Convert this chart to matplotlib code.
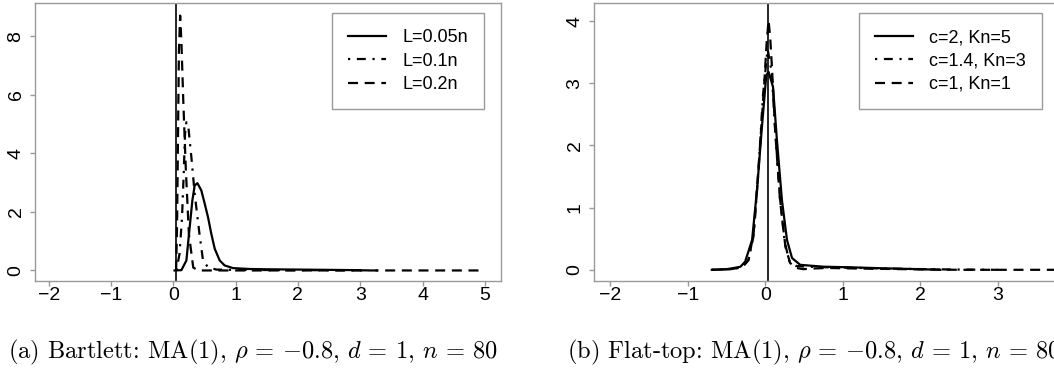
import matplotlib
matplotlib.use("Agg")
import matplotlib.pyplot as plt

plt.rcParams['font.family'] = ['Liberation Sans', 'DejaVu Sans']
plt.rcParams['mathtext.fontset'] = 'cm'
plt.rcParams['axes.unicode_minus'] = True

# ---- Panel (a): Bartlett ----
a_labels = ["L=0.05n", "L=0.1n", "L=0.2n"]
a_x_005 = [0.02, 0.13, 0.21, 0.263, 0.306, 0.343, 0.387, 0.45, 0.504, 0.557, 0.61, 0.665,
           0.745, 0.825, 0.958, 1.226, 1.5, 2.0, 2.5, 3.0]
a_y_005 = [0.0, 0.01, 0.34, 1.48, 2.39, 2.90, 2.98, 2.73, 2.28, 1.82, 1.25, 0.74,
           0.34, 0.17, 0.08, 0.05, 0.04, 0.03, 0.02, 0.01]
a_x_01 = [0.05, 0.10, 0.14, 0.167, 0.188, 0.21, 0.242, 0.29, 0.343, 0.42, 0.477, 0.557,
          0.69, 1.0, 1.5, 2.0, 2.5, 3.0, 3.3]
a_y_01 = [0.0, 0.57, 1.82, 3.3, 4.66, 5.06, 4.89, 3.87, 2.62, 1.25, 0.34, 0.11,
          0.03, 0.02, 0.015, 0.01, 0.01, 0.005, 0.0]
a_x_02 = [0.045, 0.06, 0.075, 0.09, 0.11, 0.13, 0.16, 0.20, 0.25, 0.32, 0.40, 1.0, 3.0, 5.0]
a_y_02 = [0.0, 1.5, 4.5, 7.5, 8.7, 7.8, 5.8, 3.5, 1.25, 0.1, 0.0, 0.0, 0.0, 0.0]
a_vline = 0.04
a_xticks = [-2, -1, 0, 1, 2, 3, 4, 5]
a_yticks = [0, 2, 4, 6, 8]
a_caption = r"(a) Bartlett: MA(1), $\rho$ = $-$0.8, $d$ = 1, $n$ = 80"

# ---- Panel (b): Flat-top ----
b_labels = ["c=2, Kn=5", "c=1.4, Kn=3", "c=1, Kn=1"]
b_x_c2 = [-0.69, -0.5, -0.40, -0.32, -0.26, -0.17, -0.107, -0.043, 0.013, 0.043, 0.10,
          0.15, 0.215, 0.28, 0.345, 0.45, 0.75, 1.1, 1.5, 2.0, 2.26]
b_y_c2 = [0.0, 0.01, 0.03, 0.05, 0.13, 0.48, 1.28, 2.30, 3.13, 3.18, 2.94,
          2.09, 1.12, 0.48, 0.19, 0.08, 0.05, 0.04, 0.025, 0.01, 0.0]
b_x_c14 = [-0.69, -0.45, -0.3, -0.22, -0.15, -0.09, -0.03, 0.03, 0.08, 0.13, 0.19, 0.25,
           0.31, 0.40, 0.55, 0.8, 1.2, 1.8, 2.4, 3.0]
b_y_c14 = [0.0, 0.01, 0.04, 0.15, 0.55, 1.55, 2.8, 3.55, 3.2, 2.2, 1.15, 0.45,
           0.14, 0.06, 0.05, 0.04, 0.03, 0.015, 0.005, 0.0]
b_x_c1 = [-0.69, -0.45, -0.3, -0.215, -0.15, -0.086, -0.013, 0.02, 0.043, 0.065, 0.086,
          0.13, 0.19, 0.26, 0.32, 0.40, 0.49, 0.6, 0.8, 1.2, 1.8, 2.5, 5.0]
b_y_c1 = [0.0, 0.01, 0.04, 0.16, 0.59, 1.66, 3.0, 3.7, 4.01, 3.7, 3.26,
          2.19, 1.12, 0.37, 0.11, 0.03, 0.01, 0.02, 0.03, 0.02, 0.01, 0.0, 0.0]
b_vline = 0.03
b_xticks = [-2, -1, 0, 1, 2, 3]
b_yticks = [0, 1, 2, 3, 4]
b_caption = r"(b) Flat-top: MA(1), $\rho$ = $-$0.8, $d$ = 1, $n$ = 80"

W, H = 1054, 370
fig = plt.figure(figsize=(W / 100, H / 100), dpi=100)

def px_axes(x0, x1, y0, y1):
    return fig.add_axes([x0 / W, (H - y1) / H, (x1 - x0) / W, (y1 - y0) / H])

axA = px_axes(35, 501, 3, 281)
axB = px_axes(594, 1059, 3, 281)

solid = '-'
dotdash = (0, (1, 3, 4, 3))
dashed = (0, (4.5, 3))
LW = 1.6

def style(ax, xticks, yticks, xlim, ylim):
    ax.set_xticks(xticks)
    ax.set_yticks(yticks)
    ax.set_xticklabels([f"{t:g}".replace('-', '\u2212') for t in xticks])
    ax.set_yticklabels([f"{t:g}" for t in yticks], rotation=90, va='center')
    ax.set_xlim(*xlim)
    ax.set_ylim(*ylim)
    for s in ax.spines.values():
        s.set_color('#999999')
        s.set_linewidth(1.0)
    ax.tick_params(axis='both', colors='#999999', labelcolor='black', length=3.5,
                   width=1.0, labelsize=14)
    ax.tick_params(axis='x', pad=0.5)
    ax.tick_params(axis='y', pad=4)

def legend(ax, labels):
    leg = ax.legend(labels, loc='upper right', bbox_to_anchor=(0.9635, 0.964),
                    fontsize=13, frameon=True, fancybox=False, framealpha=1,
                    edgecolor='#999999', handlelength=2.1, handletextpad=0.9,
                    labelspacing=0.35, borderpad=0.9, borderaxespad=0)
    leg.get_frame().set_linewidth(1.0)

# Panel (a)
axA.plot(a_x_005, a_y_005, color='black', lw=LW, ls=solid)
axA.plot(a_x_01, a_y_01, color='black', lw=LW, ls=dotdash)
axA.plot(a_x_02, a_y_02, color='black', lw=LW, ls=dashed)
axA.axvline(a_vline, color='black', lw=1.2)
style(axA, a_xticks, a_yticks, (-2.22, 5.26), (-0.36, 9.13))
legend(axA, a_labels)

# Panel (b)
axB.plot(b_x_c2, b_y_c2, color='black', lw=LW, ls=solid)
axB.plot(b_x_c14, b_y_c14, color='black', lw=LW, ls=dotdash)
axB.plot(b_x_c1, b_y_c1, color='black', lw=LW, ls=dashed)
axB.axvline(b_vline, color='black', lw=1.2)
style(axB, b_xticks, b_yticks, (-2.21, 3.79), (-0.18, 4.29))
legend(axB, b_labels)

fig.text(8 / W, 1 - 352 / H, a_caption, fontsize=17.6, family='cmr10', va='center', ha='left')
fig.text(567 / W, 1 - 352 / H, b_caption, fontsize=17.6, family='cmr10', va='center', ha='left')

fig.savefig("out.png", dpi=100)
